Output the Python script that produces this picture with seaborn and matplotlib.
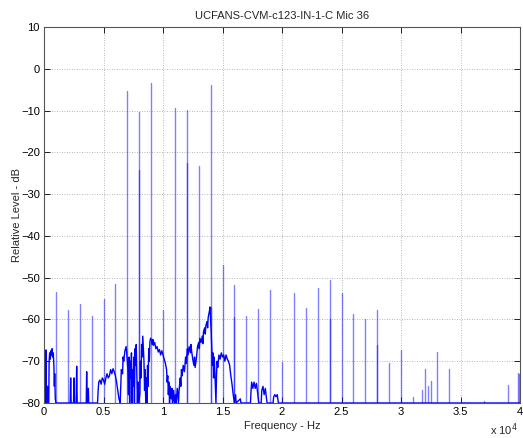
import matplotlib
matplotlib.use("Agg")
import matplotlib.pyplot as plt
import seaborn as sns
import pandas as pd

# ---------------- data ----------------
title = "UCFANS-CVM-c123-IN-1-C Mic 36"
x_label = "Frequency - Hz"
y_label = "Relative Level - dB"

# broadband spectrum (Hz, dB)
bb_freq = [0, 20, 150, 170, 190, 300, 320, 400, 430, 480, 530, 580, 630, 680, 730, 780, 830, 870, 900, 950, 1000,
           2200, 2240, 2280, 2480, 2520, 2560, 2700, 2745, 2790, 3550, 3585, 3620, 3690, 3725, 3760,
           4500, 4550, 4600, 4700, 4800, 4900, 5000, 5100, 5200, 5300, 5400, 5500, 5600, 5700, 5800, 5900, 6000,
           6100, 6200, 6300, 6400, 6450, 6500, 6600, 6650, 6700, 6800, 6900, 6950, 7050, 7100, 7150, 7200, 7250,
           7300, 7350, 7400, 7450, 7500, 7550, 7600, 7650, 7700, 7750, 7800, 7850, 7900, 7950, 8050, 8100, 8150,
           8200, 8250, 8300, 8350, 8400, 8450, 8500, 8550, 8600, 8650, 8700, 8750, 8800, 8850, 8900, 8950, 9050,
           9100, 9150, 9200, 9300, 9400, 9500, 9600, 9700, 9800, 9900, 10000, 10100, 10200, 10300, 10350, 10400,
           10450, 10500, 10550, 10600, 10700, 10750, 10800, 10900, 10950, 11050, 11100, 11200, 11300, 11350, 11450,
           11500, 11550, 11600, 11700, 11800, 11900, 11950, 12050, 12100, 12200, 12300, 12350, 12400, 12500, 12600,
           12650, 12700, 12800, 12900, 13000, 13050, 13100, 13200, 13300, 13350, 13400, 13500, 13550, 13600, 13700,
           13750, 13800, 13900, 13950, 14050, 14100, 14150, 14200, 14250, 14300, 14350, 14400, 14450, 14500, 14550,
           14600, 14700, 14800, 14900, 15000, 15100, 15200, 15300, 15400, 15500, 15600, 15700, 15800, 15900, 16000,
           16100, 16150, 16500, 16550, 17350, 17400, 17450, 17550, 17650, 17750, 17850, 17950, 18050, 18250, 18300,
           18400, 18500, 18600, 18700, 18750, 19250, 19300, 19400, 19500, 19600, 19700, 40000]
bb_level = [-45.5, -80, -80, -67.3, -80, -76, -80, -80, -70, -68, -69.5, -67.5, -68.5, -67, -69, -68, -71, -76, -73, -79, -80,
            -80, -74, -80, -80, -74, -80, -80, -71.2, -80, -80, -72.5, -80, -80, -76.5, -80,
            -80, -77, -75, -74.5, -75.5, -74, -74.5, -75.5, -74, -73, -74, -73.5, -72, -73, -71.8, -72.5, -73.5,
            -75, -77, -79, -80, -76, -72, -73, -69, -70, -67.5, -66.5, -68, -72, -78, -69, -80, -70,
            -74, -68, -80, -72, -76, -69, -80, -67, -71, -66, -73, -80, -75, -80, -78, -70, -74,
            -66, -69, -64, -67, -70, -77, -72, -80, -74, -80, -71, -76, -67, -70, -65.5, -64.5, -65,
            -66, -64.8, -66.2, -65.5, -67, -66.5, -67.8, -67.2, -68.5, -67.5, -68.5, -69.5, -70.5, -72, -75, -73.5,
            -78, -75, -80, -76, -79, -76.5, -80, -77, -80, -78, -80, -76.5, -80, -77, -74,
            -76, -72, -73.5, -71, -72.5, -69, -70.5, -67, -68.5, -66.5, -68, -66, -67.5, -69.5, -71,
            -69, -71.5, -69.5, -66.5, -65.5, -67, -64.5, -65.5, -64, -65.8, -63, -62, -63.5, -61.5, -60.5,
            -62, -59.5, -58, -57, -63, -67, -71, -68, -74, -69, -72, -76, -80, -73, -70,
            -71.5, -68.5, -69.5, -68, -69, -68.5, -70, -68.5, -69.5, -70, -71, -73.5, -75.5, -78, -80,
            -78, -80, -79, -80, -80, -77, -75, -76.5, -75, -76.5, -75.3, -77.5, -80, -80, -77,
            -76, -78, -76.5, -79, -80, -80, -78.5, -78, -78.5, -78, -80, -80]

# tonal components (Hz, dB)
tone_freq = [1000, 2000, 3000, 4000, 5000, 6000, 7000, 8000, 9000, 10000, 11000, 12000, 13000, 14000,
             15000, 16000, 17000, 18000, 19000, 20000, 21000, 22000, 23000, 24000, 25000, 26000, 27000,
             28000, 29000, 30000, 31000, 31800, 32000, 32300, 32500, 33000, 34000, 37000, 39000, 39800, 39950]
tone_level = [-53.4, -57.7, -56.3, -59.2, -55.1, -51.6, -5.3, -10.4, -3.3, -57.7, -9.4, -9.9, -23.3, -3.8,
              -47.0, -51.7, -59.2, -57.5, -53.0, -70.3, -53.7, -57.3, -52.4, -50.6, -53.6, -58.7, -60.0,
              -57.7, -70.4, -67.3, -78.5, -76.9, -71.9, -76.0, -74.7, -67.8, -71.9, -79.5, -75.7, -72.8, -73.0]
# neighbouring bins of some tones (drawn darker where they overlap)
sub_freq = [8000, 12000, 16000, 24000, 28000, 14000]
sub_level = [-24.2, -22.5, -59.4, -60.0, -66.0, -57.0]

y_ticks = [-80, -70, -60, -50, -40, -30, -20, -10, 0, 10]
x_ticks = [0, 5000, 10000, 15000, 20000, 25000, 30000, 35000, 40000]
x_tick_labels = ["0", "0.5", "1", "1.5", "2", "2.5", "3", "3.5", "4"]

# ---------------- figure ----------------
sns.set_style("white")
plt.rcParams["font.family"] = ["Liberation Sans", "DejaVu Sans"]
plt.rcParams["font.size"] = 8

fig = plt.figure(figsize=(5.23, 4.38), dpi=100)
ax = fig.add_axes([44 / 523, 1 - 403 / 438, 476 / 523, 376 / 438])

floor = y_ticks[0]
rows = []
for i, (f, l) in enumerate(zip(tone_freq + sub_freq, tone_level + sub_level)):
    rows.append({"f": f, "dB": floor, "u": i})
    rows.append({"f": f, "dB": l, "u": i})
tones = pd.DataFrame(rows)
bb = pd.DataFrame({"f": bb_freq, "dB": bb_level})

sns.lineplot(data=tones, x="f", y="dB", units="u", estimator=None, sort=False,
             color="#0000ff", alpha=0.5, linewidth=1.0, ax=ax)
sns.lineplot(data=bb, x="f", y="dB", estimator=None, sort=False,
             color="#0000ff", linewidth=1.0, ax=ax)

ax.set_xlim(0, 40000)
ax.set_ylim(-80, 10)
ax.set_xticks(x_ticks)
ax.set_xticklabels(x_tick_labels)
ax.set_yticks(y_ticks)
ax.grid(True, linestyle=(0, (1, 2)), color="#a0a0a0", linewidth=0.6)
ax.tick_params(direction="in", length=4, width=0.6, colors="black", labelsize=8,
               top=True, right=True, bottom=True, left=True, pad=3)
for s in ax.spines.values():
    s.set_color("#555555")
    s.set_linewidth(0.8)

ax.set_title(title, fontsize=8, pad=6)
ax.set_xlabel(x_label, fontsize=8, labelpad=3)
ax.set_ylabel(y_label, fontsize=8, labelpad=-0.5)
ax.text(0.995, -0.072, r"x 10$^{4}$", transform=ax.transAxes, ha="right", va="center", fontsize=8)

fig.savefig("out.png", dpi=100)
